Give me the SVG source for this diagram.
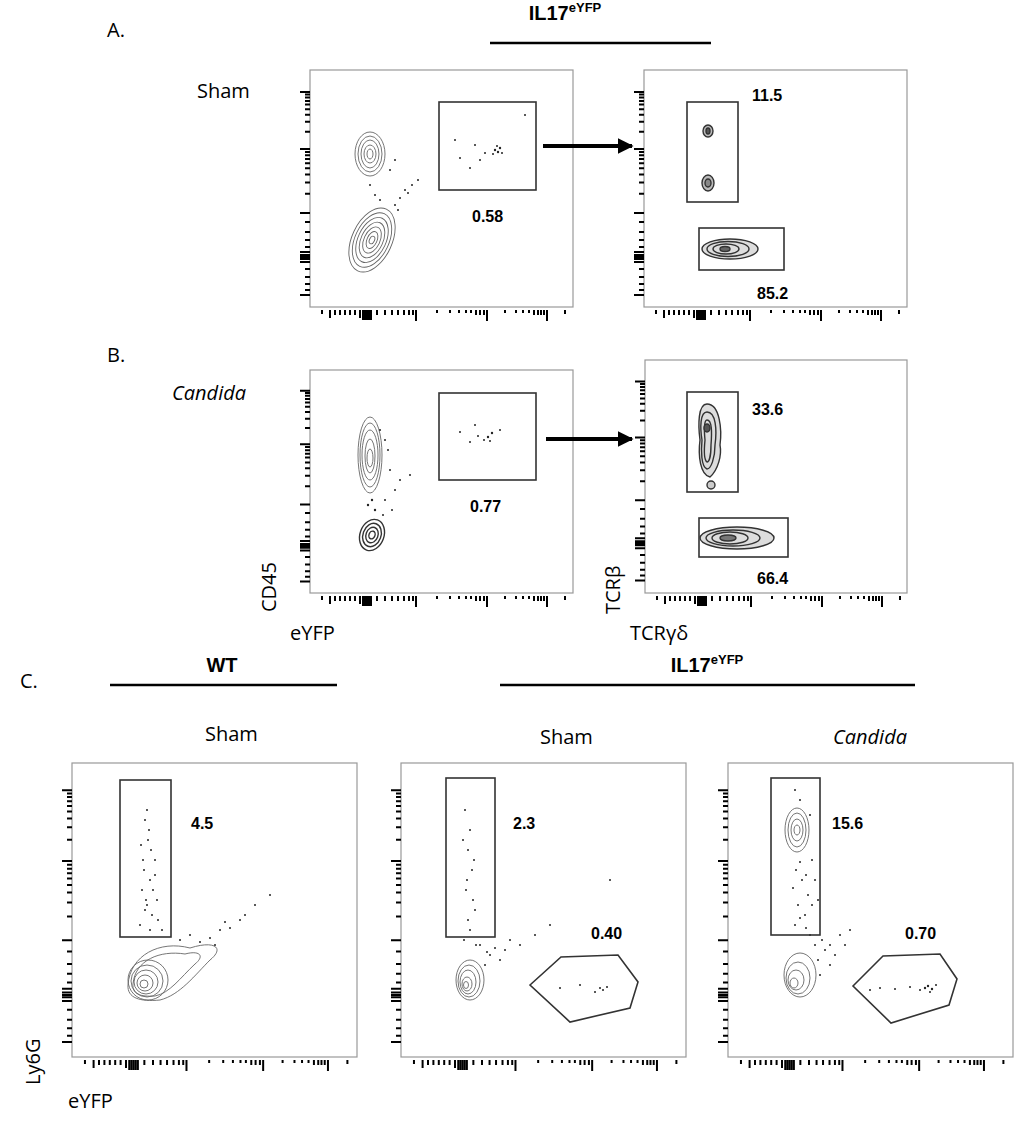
<svg xmlns="http://www.w3.org/2000/svg" xmlns:xlink="http://www.w3.org/1999/xlink" width="1024" height="1124" viewBox="0 0 1024 1124">
<style>
.frame{fill:none;stroke:#999;stroke-width:1.2}
.gate{fill:none;stroke:#333;stroke-width:1.6}
.tk{fill:none;stroke:#000;stroke-width:2}
.ct{fill:none;stroke:#666;stroke-width:0.9}
.ctd{fill:none;stroke:#333;stroke-width:1.4}
.num{font-family:"Liberation Sans",Arial,sans-serif;font-weight:bold;font-size:16px;fill:#000}
.lbl{font-family:"Open Sans","Liberation Sans",sans-serif;font-size:20px;fill:#000}
.hd{font-family:"Liberation Sans",Arial,sans-serif;font-weight:bold;font-size:20px;fill:#000}
.d{fill:#222}
</style>
<defs>
<path id="lax" class="tk" vector-effect="non-scaling-stroke" d="M-10 22H0M-5 24.6H0M-5 27.5H0M-5 30.9H0M-5 34.6H0M-5 39.2H0M-5 44.7H0M-5 51.8H0M-5 61.8H0M-10 79H0M-5 82H0M-5 85.3H0M-5 89H0M-5 93.2H0M-5 98.3H0M-5 104.5H0M-5 112.5H0M-5 123.7H0M-10 143H0M-5 152H0M-5 162H0M-5 170H0M-5 177H0M-10 182H0M-10 185H0M-10 187H0M-10 189H0M-10 192H0M-5 199H0M-5 207H0M-5 214H0M-5 220H0M-10 225H0"/>
<path id="bax" class="tk" vector-effect="non-scaling-stroke" d="M12 3V7M20 3V11M25 3V8M30 3V8M35 3V8M40 3V8M45 3V8M50 3V11M53 3V13M55 3V13M57 3V13M59 3V13M61 3V13M67 3V8M75 3V8M82 3V8M88 3V8M94 3V8M99 3V8M103 3V8M106 3V14M127 3V6M140 3V6M149 3V6M156 3V6M161 3V6M166 3V8M170 3V8M174 3V8M177 3V14M195 3V6M206 3V6M213 3V6M219 3V6M224 3V8M228 3V8M231 3V8M234 3V8M237 3V14M255 3V7"/>
<marker id="ah" viewBox="0 0 10 10" refX="9" refY="5" markerWidth="4" markerHeight="4" orient="auto"><path d="M0 0L10 5L0 10z" fill="#000"/></marker>
</defs>

<!-- Panel A -->
<text x="107" y="37" class="lbl">A.</text>
<text x="565" y="20" class="hd" text-anchor="middle">IL17<tspan font-size="13" dy="-8">eYFP</tspan></text>
<line x1="490" y1="43" x2="711" y2="43" stroke="#000" stroke-width="2.5"/>
<text x="197" y="98" class="lbl">Sham</text>

<g id="plotA1">
<rect x="310" y="70" width="263" height="237" class="frame"/>
<use xlink:href="#lax" x="310" y="70"/>
<use xlink:href="#bax" x="310" y="307"/>
<g class="ct"><ellipse cx="370" cy="154" rx="15" ry="22"/><ellipse cx="370" cy="154" rx="12" ry="18"/><ellipse cx="370" cy="154" rx="9" ry="14"/><ellipse cx="370" cy="154" rx="6" ry="9"/><ellipse cx="370" cy="154" rx="3" ry="5"/></g>
<g class="ct" transform="rotate(25 372 240)"><ellipse cx="372" cy="240" rx="20" ry="34"/><ellipse cx="372" cy="240" rx="17" ry="29"/><ellipse cx="372" cy="240" rx="14" ry="24"/><ellipse cx="372" cy="240" rx="11" ry="19"/><ellipse cx="372" cy="240" rx="8" ry="14"/><ellipse cx="372" cy="240" rx="5" ry="9"/><ellipse cx="372" cy="240" rx="2.5" ry="4"/></g>
<g class="d"><circle cx="495" cy="150" r="1.2"/><circle cx="498" cy="152" r="1.2"/><circle cx="500" cy="148" r="1.2"/><circle cx="493" cy="154" r="1"/><circle cx="497" cy="146" r="1"/><circle cx="502" cy="153" r="1"/><circle cx="485" cy="153" r="1"/><circle cx="475" cy="145" r="1"/><circle cx="460" cy="158" r="1"/><circle cx="455" cy="140" r="1"/><circle cx="480" cy="160" r="1"/><circle cx="470" cy="168" r="1"/><circle cx="405" cy="190" r="1"/><circle cx="412" cy="185" r="1"/><circle cx="400" cy="198" r="1"/><circle cx="395" cy="205" r="1"/><circle cx="418" cy="180" r="1"/><circle cx="408" cy="193" r="1"/><circle cx="398" cy="210" r="1"/><circle cx="390" cy="170" r="1"/><circle cx="395" cy="160" r="1"/><circle cx="370" cy="185" r="1"/><circle cx="375" cy="195" r="1"/><circle cx="380" cy="200" r="1"/><circle cx="525" cy="115" r="1"/></g>
<rect x="439" y="102" width="97" height="88" class="gate"/>
<text x="472" y="222" class="num">0.58</text>
</g>
<line x1="543" y1="146" x2="632" y2="146" stroke="#000" stroke-width="4" marker-end="url(#ah)"/>

<g id="plotA2">
<rect x="644" y="70" width="263" height="237" class="frame"/>
<use xlink:href="#lax" x="644" y="70"/>
<use xlink:href="#bax" x="644" y="307"/>
<g class="ctd"><ellipse cx="708" cy="131" rx="5" ry="6" fill="#bbb"/><ellipse cx="708" cy="131" rx="2" ry="3" fill="#555"/><ellipse cx="708" cy="183" rx="6" ry="8" fill="#bbb"/><ellipse cx="708" cy="183" rx="3" ry="4" fill="#888"/></g>
<g class="ctd"><ellipse cx="730" cy="249" rx="28" ry="10" fill="#ddd"/><ellipse cx="728" cy="249" rx="21" ry="7.5"/><ellipse cx="726" cy="249" rx="13" ry="5"/><ellipse cx="725" cy="249" rx="5" ry="2.5" fill="#666"/></g>
<rect x="687" y="102" width="51" height="100" class="gate"/>
<rect x="699" y="228" width="85" height="42" class="gate"/>
<text x="752" y="101" class="num">11.5</text>
<text x="757" y="299" class="num">85.2</text>
</g>

<!-- Panel B -->
<text x="107" y="362" class="lbl">B.</text>
<text x="172" y="400" class="lbl" font-style="italic">Candida</text>
<g id="plotB1">
<rect x="310" y="370" width="263" height="223" class="frame"/>
<use xlink:href="#lax" transform="translate(310 370) scale(1 0.94)"/>
<use xlink:href="#bax" x="310" y="593"/>
<g class="ct"><ellipse cx="370" cy="455" rx="12" ry="38"/><ellipse cx="370" cy="455" rx="10" ry="32"/><ellipse cx="370" cy="455" rx="8" ry="25"/><ellipse cx="370" cy="456" rx="5" ry="17"/><ellipse cx="370" cy="458" rx="3" ry="9"/></g>
<g class="ctd" transform="rotate(20 372 535)"><ellipse cx="372" cy="535" rx="12" ry="16"/><ellipse cx="372" cy="535" rx="9" ry="12"/><ellipse cx="372" cy="535" rx="6" ry="8"/><ellipse cx="372" cy="535" rx="3" ry="4"/></g>
<g class="d"><circle cx="488" cy="437" r="1.2"/><circle cx="492" cy="433" r="1.2"/><circle cx="484" cy="440" r="1"/><circle cx="490" cy="441" r="1"/><circle cx="478" cy="436" r="1"/><circle cx="470" cy="442" r="1"/><circle cx="460" cy="432" r="1"/><circle cx="500" cy="430" r="1"/><circle cx="475" cy="425" r="1"/><circle cx="390" cy="470" r="1"/><circle cx="395" cy="490" r="1"/><circle cx="400" cy="480" r="1"/><circle cx="385" cy="500" r="1"/><circle cx="383" cy="515" r="1"/><circle cx="392" cy="510" r="1"/><circle cx="388" cy="450" r="1"/><circle cx="410" cy="475" r="1"/><circle cx="372" cy="500" r="1.2"/><circle cx="368" cy="505" r="1.2"/><circle cx="375" cy="510" r="1.2"/><circle cx="380" cy="430" r="1"/><circle cx="385" cy="440" r="1"/></g>
<rect x="439" y="393" width="97" height="87" class="gate"/>
<text x="470" y="512" class="num">0.77</text>
</g>
<line x1="546" y1="439" x2="632" y2="439" stroke="#000" stroke-width="4" marker-end="url(#ah)"/>

<g id="plotB2">
<rect x="645" y="360" width="262" height="233" class="frame"/>
<use xlink:href="#lax" transform="translate(645 360) scale(1 0.98)"/>
<use xlink:href="#bax" x="645" y="593"/>
<g class="ctd"><path d="M707 404C720 404 722 430 720 445C722 455 718 470 710 477C700 475 698 455 700 440C698 425 698 404 707 404Z" fill="#ddd"/><path d="M707 412C716 412 717 430 715 445C715 458 711 469 707 469C701 467 701 450 702 440C700 428 700 412 707 412Z"/><path d="M707 420C712 420 712 432 711 445C711 456 709 462 707 462C704 460 704 450 705 440C704 430 704 420 707 420Z"/><ellipse cx="707" cy="428" rx="3" ry="4" fill="#555"/><circle cx="711" cy="485" r="4" fill="#ccc"/></g>
<g class="ctd"><ellipse cx="737" cy="538" rx="37" ry="11" fill="#ddd"/><ellipse cx="733" cy="538" rx="27" ry="8"/><ellipse cx="730" cy="538" rx="18" ry="6"/><ellipse cx="728" cy="538" rx="8" ry="3" fill="#777"/></g>
<rect x="687" y="392" width="51" height="100" class="gate"/>
<rect x="699" y="518" width="89" height="39" class="gate"/>
<text x="752" y="415" class="num">33.6</text>
<text x="757" y="584" class="num">66.4</text>
</g>
<text class="lbl" transform="translate(276 612) rotate(-90)">CD45</text>
<text x="290" y="640" class="lbl">eYFP</text>
<text class="lbl" transform="translate(620 614) rotate(-90)">TCRβ</text>
<text x="630" y="640" class="lbl">TCRγδ</text>

<!-- Panel C -->
<text x="20" y="688" class="lbl">C.</text>
<text x="222" y="672" class="hd" text-anchor="middle">WT</text>
<line x1="110" y1="685" x2="337" y2="685" stroke="#000" stroke-width="2.5"/>
<text x="707" y="672" class="hd" text-anchor="middle">IL17<tspan font-size="13" dy="-8">eYFP</tspan></text>
<line x1="500" y1="685" x2="915" y2="685" stroke="#000" stroke-width="2.5"/>
<text x="205" y="741" class="lbl">Sham</text>
<text x="540" y="744" class="lbl">Sham</text>
<text x="870" y="744" class="lbl" font-style="italic" text-anchor="middle">Candida</text>

<g id="plotC1">
<rect x="72" y="763" width="285" height="294" class="frame"/>
<use xlink:href="#lax" transform="translate(72 763) scale(1 1.24)"/>
<use xlink:href="#bax" transform="translate(72 1057) scale(1.08 1)"/>
<g class="ct"><path d="M128 985C130 955 160 940 190 948C215 940 225 948 210 960C195 975 180 995 160 1000C140 1002 127 998 128 985Z"/><path d="M133 984C135 960 160 950 185 954C200 950 205 956 195 964C180 978 170 993 155 996C140 997 132 994 133 984Z"/><ellipse cx="148" cy="980" rx="20" ry="20"/><ellipse cx="147" cy="981" rx="16" ry="16"/><ellipse cx="146" cy="982" rx="12" ry="12"/><ellipse cx="145" cy="983" rx="8" ry="8"/><ellipse cx="144" cy="984" rx="4" ry="4"/></g>
<g class="d"><circle cx="145" cy="820" r="1"/><circle cx="148" cy="840" r="1"/><circle cx="143" cy="860" r="1"/><circle cx="150" cy="880" r="1"/><circle cx="146" cy="900" r="1"/><circle cx="152" cy="915" r="1"/><circle cx="140" cy="925" r="1"/><circle cx="155" cy="860" r="1"/><circle cx="142" cy="890" r="1"/><circle cx="149" cy="830" r="1"/><circle cx="157" cy="900" r="1"/><circle cx="147" cy="810" r="1"/><circle cx="144" cy="870" r="1"/><circle cx="151" cy="850" r="1"/><circle cx="153" cy="890" r="1"/><circle cx="145" cy="910" r="1"/><circle cx="158" cy="920" r="1"/><circle cx="150" cy="930" r="1"/><circle cx="162" cy="930" r="1"/><circle cx="141" cy="845" r="1"/><circle cx="155" cy="875" r="1"/><circle cx="147" cy="905" r="1"/><circle cx="180" cy="940" r="1"/><circle cx="200" cy="942" r="1"/><circle cx="220" cy="930" r="1"/><circle cx="240" cy="920" r="1"/><circle cx="255" cy="905" r="1"/><circle cx="270" cy="895" r="1"/><circle cx="230" cy="928" r="1"/><circle cx="210" cy="938" r="1"/><circle cx="190" cy="935" r="1"/><circle cx="225" cy="922" r="1"/><circle cx="245" cy="915" r="1"/><circle cx="215" cy="945" r="1"/></g>
<rect x="120" y="780" width="51" height="157" class="gate"/>
<text x="191" y="829" class="num">4.5</text>
</g>

<g id="plotC2">
<rect x="401" y="763" width="285" height="294" class="frame"/>
<use xlink:href="#lax" transform="translate(401 763) scale(1 1.24)"/>
<use xlink:href="#bax" transform="translate(401 1057) scale(1.08 1)"/>
<g class="ct"><ellipse cx="470" cy="980" rx="14" ry="20"/><ellipse cx="469" cy="981" rx="11" ry="16"/><ellipse cx="468" cy="982" rx="8" ry="12"/><ellipse cx="467" cy="984" rx="5" ry="7"/><ellipse cx="466" cy="985" rx="2.5" ry="3.5"/></g>
<g class="d"><circle cx="465" cy="810" r="1"/><circle cx="470" cy="830" r="1"/><circle cx="468" cy="850" r="1"/><circle cx="472" cy="870" r="1"/><circle cx="466" cy="890" r="1"/><circle cx="475" cy="910" r="1"/><circle cx="470" cy="930" r="1"/><circle cx="463" cy="840" r="1"/><circle cx="474" cy="860" r="1"/><circle cx="467" cy="880" r="1"/><circle cx="473" cy="900" r="1"/><circle cx="468" cy="920" r="1"/><circle cx="464" cy="940" r="1"/><circle cx="476" cy="945" r="1"/><circle cx="480" cy="945" r="1"/><circle cx="490" cy="955" r="1"/><circle cx="505" cy="950" r="1"/><circle cx="520" cy="945" r="1"/><circle cx="535" cy="935" r="1"/><circle cx="550" cy="925" r="1"/><circle cx="500" cy="960" r="1"/><circle cx="485" cy="965" r="1"/><circle cx="495" cy="948" r="1"/><circle cx="510" cy="940" r="1"/><circle cx="487" cy="952" r="1"/><circle cx="600" cy="988" r="1"/><circle cx="603" cy="990" r="1"/><circle cx="607" cy="987" r="1"/><circle cx="595" cy="992" r="1"/><circle cx="580" cy="985" r="1"/><circle cx="560" cy="988" r="1"/><circle cx="610" cy="880" r="1"/></g>
<polygon points="530,985 561,957 618,955 638,982 630,1008 570,1022" class="gate"/>
<rect x="446" y="778" width="49" height="159" class="gate"/>
<text x="513" y="829" class="num">2.3</text>
<text x="591" y="939" class="num">0.40</text>
</g>

<g id="plotC3">
<rect x="728" y="763" width="285" height="294" class="frame"/>
<use xlink:href="#lax" transform="translate(728 763) scale(1 1.24)"/>
<use xlink:href="#bax" transform="translate(728 1057) scale(1.08 1)"/>
<g class="ct"><ellipse cx="797" cy="830" rx="12" ry="22"/><ellipse cx="797" cy="830" rx="9" ry="17"/><ellipse cx="797" cy="830" rx="6" ry="11"/><ellipse cx="797" cy="830" rx="3" ry="5"/><ellipse cx="800" cy="975" rx="16" ry="22"/><ellipse cx="798" cy="978" rx="12" ry="16"/><ellipse cx="796" cy="980" rx="8" ry="10"/><ellipse cx="794" cy="983" rx="4" ry="5"/></g>
<g class="d"><circle cx="795" cy="790" r="1"/><circle cx="800" cy="800" r="1"/><circle cx="810" cy="815" r="1"/><circle cx="812" cy="860" r="1"/><circle cx="796" cy="870" r="1"/><circle cx="802" cy="880" r="1"/><circle cx="808" cy="895" r="1"/><circle cx="798" cy="905" r="1"/><circle cx="805" cy="915" r="1"/><circle cx="795" cy="925" r="1"/><circle cx="810" cy="935" r="1"/><circle cx="800" cy="862" r="1"/><circle cx="806" cy="875" r="1"/><circle cx="793" cy="888" r="1"/><circle cx="812" cy="905" r="1"/><circle cx="800" cy="918" r="1"/><circle cx="806" cy="928" r="1"/><circle cx="815" cy="880" r="1"/><circle cx="815" cy="945" r="1"/><circle cx="825" cy="950" r="1"/><circle cx="835" cy="955" r="1"/><circle cx="845" cy="945" r="1"/><circle cx="830" cy="965" r="1"/><circle cx="820" cy="975" r="1"/><circle cx="840" cy="935" r="1"/><circle cx="850" cy="930" r="1"/><circle cx="818" cy="900" r="1"/><circle cx="822" cy="940" r="1"/><circle cx="830" cy="945" r="1"/><circle cx="818" cy="960" r="1"/><circle cx="925" cy="988" r="1.2"/><circle cx="928" cy="986" r="1.2"/><circle cx="932" cy="989" r="1.2"/><circle cx="920" cy="990" r="1"/><circle cx="910" cy="987" r="1"/><circle cx="895" cy="989" r="1"/><circle cx="880" cy="988" r="1"/><circle cx="870" cy="990" r="1"/><circle cx="936" cy="985" r="1"/><circle cx="930" cy="992" r="1"/></g>
<polygon points="853,986 883,956 940,954 957,979 949,1005 891,1023" class="gate"/>
<rect x="771" y="778" width="49" height="157" class="gate"/>
<text x="832" y="829" class="num">15.6</text>
<text x="905" y="939" class="num">0.70</text>
</g>
<text class="lbl" transform="translate(40 1085) rotate(-90)">Ly6G</text>
<text x="68" y="1108" class="lbl">eYFP</text>
</svg>
